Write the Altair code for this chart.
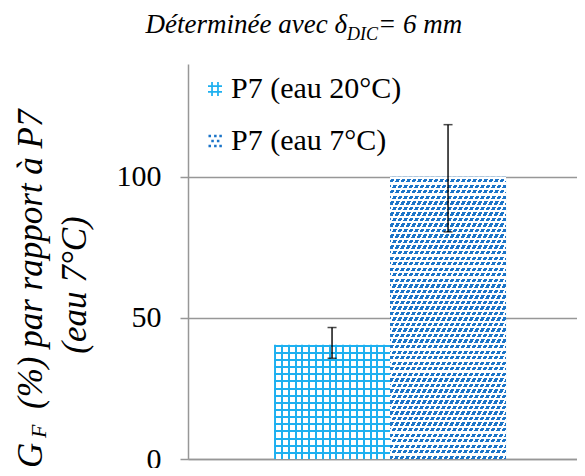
import altair as alt
import pandas as pd

# ---- data ----
group = ["P7", "P7"]
series = ["P7 (eau 20°C)", "P7 (eau 7°C)"]
values = [40.5, 100.0]
err_low = [35.7, 80.5]
err_high = [46.6, 118.5]
y_ticks = [0, 50, 100]

df = pd.DataFrame({"group": group, "series": series, "value": values,
                   "low": err_low, "high": err_high})

# ---- geometry / style ----
W, H = 389, 395
YMAX = 140
BAND = 232
FONT = "Liberation Serif"
GRID_BLUE = "#1eb0f0"
DOT_BLUE = "#1b74c8"
GRAY = "#979797"
CLEAR = "rgba(255,255,255,0)"


def stripe_grad(color, dt, on_t, x2, y2):
    stops = []
    t = 0.0
    while t < 1.0:
        e = min(1.0, t + on_t)
        stops += [alt.GradientStop(offset=t, color=CLEAR),
                  alt.GradientStop(offset=t, color=color),
                  alt.GradientStop(offset=e, color=color),
                  alt.GradientStop(offset=e, color=CLEAR)]
        t += dt
    stops.append(alt.GradientStop(offset=1, color=CLEAR))
    return alt.Gradient(gradient="linear", stops=stops, x1=0, y1=0, x2=x2, y2=y2)


def straight(color, length, period, on, horizontal):
    n = max(1, round(length / period))
    if horizontal:
        return stripe_grad(color, 1.0 / n, on / length, 0, 1)
    return stripe_grad(color, 1.0 / n, on / length, 1, 0)


def slanted(color, w, h, period, on, shear):
    k = shear * h / w
    norm = 1 + k * k
    return stripe_grad(color, (period / w) / norm, (on / w) / norm, 1, k)


bar_w = BAND / 2
h1 = values[0] / YMAX * H
h2 = values[1] / YMAX * H

x_enc = alt.X("group:N",
              scale=alt.Scale(paddingInner=0, paddingOuter=0.3384, align=0.548),
              axis=alt.Axis(labels=False, ticks=False, title=None, domain=True,
                            domainColor=GRAY, domainWidth=1.5, grid=False))
xo_enc = alt.XOffset("series:N", scale=alt.Scale(domain=series, paddingInner=0, paddingOuter=0))
y_axis = alt.Axis(values=y_ticks, title=None, grid=True, gridColor=GRAY, gridWidth=1.5,
                  domainColor=GRAY, domainWidth=1.5, tickColor=GRAY, tickWidth=1.5,
                  tickSize=8, labelFont=FONT, labelFontSize=30, labelColor="black",
                  labelPadding=19)
y_scale = alt.Scale(domain=[0, YMAX], nice=False)


def Y(field):
    return alt.Y(field, scale=y_scale, axis=y_axis)


base = alt.Chart(df)

hash_path = ("M-0.55,-1H-0.3V1H-0.55Z M0.3,-1H0.55V1H0.3Z "
             "M-1,-0.55H1V-0.3H-1Z M-1,0.3H1V0.55H-1Z")
dots_path = ("M-0.93,-0.88H-0.57V-0.52H-0.93Z M-0.13,-0.88H0.23V-0.52H-0.13Z M0.62,-0.88H0.98V-0.52H0.62Z "
             "M-0.53,-0.18H-0.17V0.18H-0.53Z M0.27,-0.18H0.63V0.18H0.27Z "
             "M-0.93,0.52H-0.57V0.88H-0.93Z M-0.13,0.52H0.23V0.88H-0.13Z M0.62,0.52H0.98V0.88H0.62Z")

one = alt.Data(values=[{"k": 1}])

# legend drawn as marks
leg = []
for i, (name, path, col) in enumerate(zip(series, [hash_path, dots_path], [GRID_BLUE, DOT_BLUE])):
    yy = 25 + 52 * i
    leg.append(alt.Chart(one).mark_point(shape=path, size=196, filled=True, color=col,
                                         opacity=1, strokeWidth=0)
               .encode(x=alt.value(27), y=alt.value(yy)))
    leg.append(alt.Chart(one).mark_text(text=name, font=FONT, fontSize=30, align="left",
                                        baseline="middle", color="black")
               .encode(x=alt.value(43), y=alt.value(yy)))

b1 = base.transform_filter(alt.datum.series == series[0])
b2 = base.transform_filter(alt.datum.series == series[1])
enc = dict(x=x_enc, xOffset=xo_enc, y=Y("value:Q"))

bar1_base = b1.mark_bar(fill="white").encode(**enc)
bar1_v = b1.mark_bar(fill=straight(GRID_BLUE, bar_w, 7, 2, False)).encode(**enc)
bar1_h = b1.mark_bar(fill=straight(GRID_BLUE, h1, 7, 2, True)).encode(**enc)

bar2_base = b2.mark_bar(fill=DOT_BLUE).encode(**enc)
bar2_v = b2.mark_bar(fill=slanted("#ffffff", bar_w, h2, 5.5, 2.2, 0.5)).encode(**enc)
bar2_h = b2.mark_bar(fill=straight("#ffffff", h2, 5.5, 2.2, True)).encode(**enc)

err_rule = base.mark_rule(color="black", strokeWidth=1.4).encode(
    x=x_enc, xOffset=xo_enc, y=Y("low:Q"), y2="high:Q")
cap_lo = base.mark_tick(color="black", size=9, thickness=1.5, orient="horizontal").encode(
    x=x_enc, xOffset=xo_enc, y=Y("low:Q"))
cap_hi = base.mark_tick(color="black", size=9, thickness=1.5, orient="horizontal").encode(
    x=x_enc, xOffset=xo_enc, y=Y("high:Q"))


def txt(text, x, y, size, align="left", angle=0):
    return alt.Chart(one).mark_text(
        text=text, font=FONT, fontStyle="italic", fontSize=size, align=align,
        baseline="alphabetic", angle=angle, color="black"
    ).encode(x=alt.value(x), y=alt.value(y))


texts = [
    txt("Déterminée avec δ", 159, -31, 27, align="right"),
    txt("DIC", 159, -24, 18),
    txt("= 6 mm", 190, -31, 27),
    txt("G", -146, 404, 35, angle=270),
    txt("F", -142, 374, 22, angle=270),
    txt("(%) par rapport à P7", -146, 345, 35, angle=270),
    txt("(eau 7°C)", -102, 221, 35, align="center", angle=270),
]

chart = alt.layer(
    bar1_base, bar1_v, bar1_h, bar2_base, bar2_v, bar2_h,
    err_rule, cap_lo, cap_hi, *leg, *texts
).properties(
    width=W, height=H,
    autosize=alt.AutoSizeParams(type="none"),
    padding={"left": 180, "top": 56, "right": 0, "bottom": 9},
    background="white",
).configure_view(stroke=None)

chart.save("out.html", embed_options={"renderer": "svg", "actions": False})
